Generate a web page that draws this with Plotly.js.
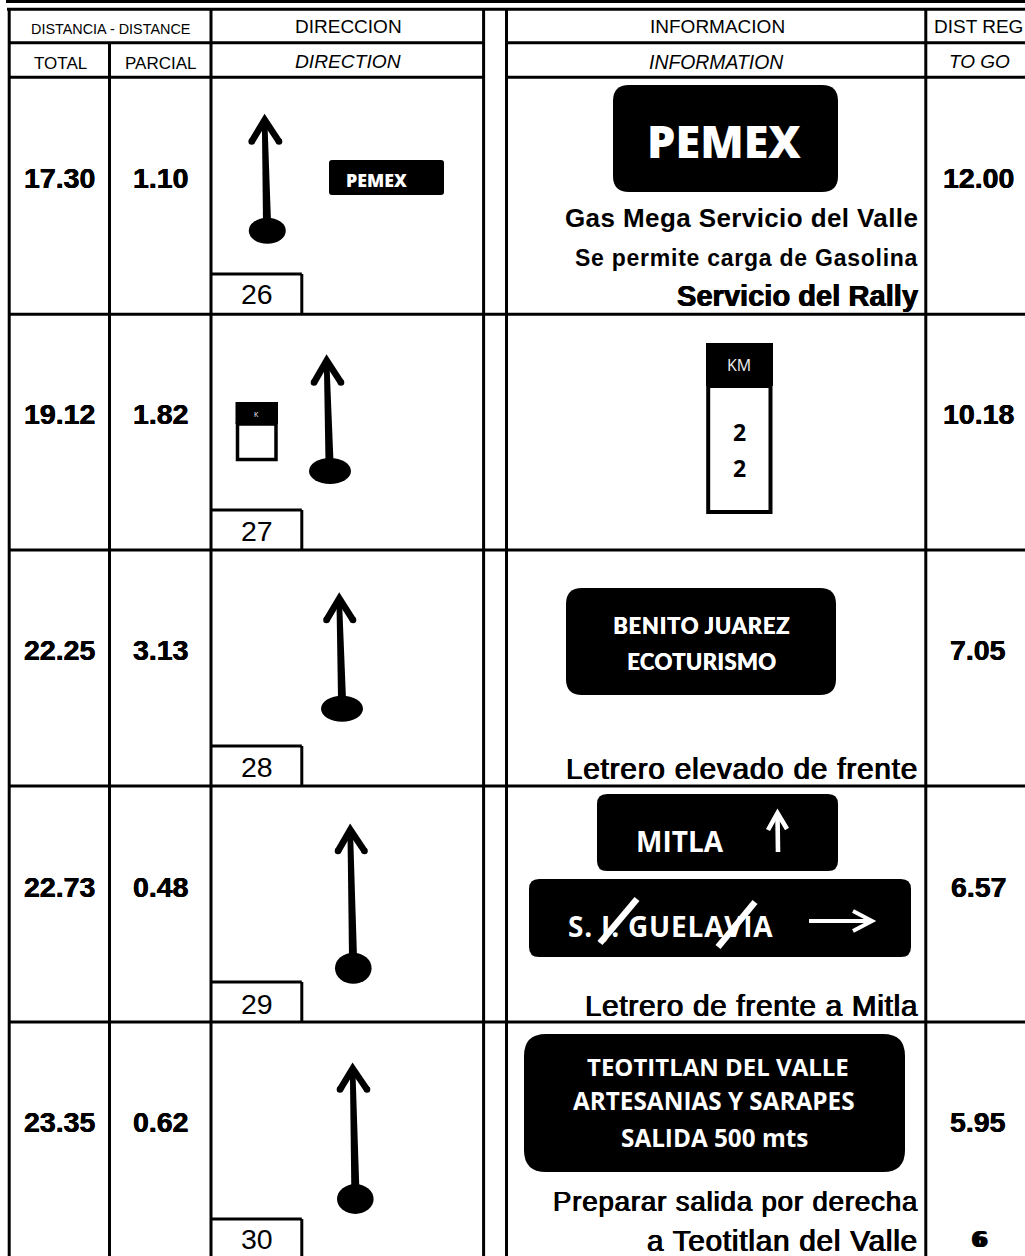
<!DOCTYPE html>
<html><head><meta charset="utf-8">
<script src="https://cdn.plot.ly/plotly-3.0.1.min.js"></script>
<style>html,body{margin:0;padding:0;background:#fff}</style></head>
<body><div id="chart" style="width:1025px;height:1256px"></div>
<script>
// ---- chart content ----
const totals   = ["17.30","19.12","22.25","22.73","23.35"];
const partials = ["1.10","1.82","3.13","0.48","0.62"];
const toGo     = ["12.00","10.18","7.05","6.57","5.95"];
const stepNumbers = ["26","27","28","29","30"];
const headerTop = ["DISTANCIA - DISTANCE","DIRECCION","INFORMACION","DIST REG"];
const headerSub = ["TOTAL","PARCIAL","DIRECTION","INFORMATION","TO GO"];
const captions = ["Gas Mega Servicio del Valle","Se permite carga de Gasolina","Servicio del Rally",
  "Letrero elevado de frente","Letrero de frente a Mitla","Preparar salida por derecha","a Teotitlan del Valle"];
const signTexts = ["PEMEX","KM","2","BENITO JUAREZ","ECOTURISMO","MITLA","S. J. GUELAVIA",
  "TEOTITLAN DEL VALLE","ARTESANIAS Y SARAPES","SALIDA 500 mts"];

// ---- layout helpers (page is mapped 1:1 on the axes) ----
const shapes=[], ann=[];
const LW=3, K='#000', W='#fff';
const ARIAL='"Liberation Sans", Arial, sans-serif', OPEN='"Open Sans", sans-serif', LATO='Lato, sans-serif';
function line(x0,y0,x1,y1,c=K,w=LW){shapes.push({type:'line',x0,y0,x1,y1,line:{color:c,width:w},layer:'above'});}
function poly(p,c=K,w=LW){shapes.push({type:'path',path:p,line:{color:c,width:w},fillcolor:'rgba(0,0,0,0)',layer:'above'});}
function fillp(p,c=K){shapes.push({type:'path',path:p,line:{width:0},fillcolor:c,layer:'above'});}
function ell(cx,cy,rx,ry,c=K){shapes.push({type:'circle',x0:cx-rx,x1:cx+rx,y0:cy-ry,y1:cy+ry,fillcolor:c,line:{width:0},layer:'above'});}
function rr(x0,y0,x1,y1,r,c=K){
  shapes.push({type:'path',layer:'below',fillcolor:c,line:{width:0},
   path:`M${x0+r},${y0} L${x1-r},${y0} Q${x1},${y0} ${x1},${y0+r} L${x1},${y1-r} Q${x1},${y1} ${x1-r},${y1} L${x0+r},${y1} Q${x0},${y1} ${x0},${y1-r} L${x0},${y0+r} Q${x0},${y0} ${x0+r},${y0} Z`});
}
function txt(t,x,y,size,o={}){
  const s=o.ls?`<span style="letter-spacing:${o.ls}px">${t}</span>`:t;
  ann.push({text:s,x,y,xref:'x',yref:'y',showarrow:false,xanchor:o.a||'center',yanchor:'middle',
    align:o.a||'center',borderpad:0,
    font:{family:o.f||ARIAL,size,color:o.c||K,weight:o.w||400,style:o.i?'italic':'normal',shadow:o.s||'none'}});
}
function arrow(tx,ty,bx,by,lx,rx,hy,ex,ey,erx,ery){
  const sy=ty+12;
  fillp(`M${tx-2.8},${sy} L${tx+2.8},${sy} L${bx+4},${by} L${bx-4},${by} Z`);
  poly(`M${lx},${hy} L${tx},${ty+7.5} L${rx},${hy}`,K,6.6);
  ell(lx,hy,3.3,3.3); ell(rx,hy,3.3,3.3);
  ell(ex,ey,erx,ery);
}

// frame
const yRows=[314.2,550,786,1022];
const colsX=[9.2,211,483.6,506.5,925.8];
shapes.push({type:'rect',x0:6,x1:1025,y0:0,y1:3,fillcolor:K,line:{width:0},layer:'above'});
line(7,9.3,1025,9.3);
colsX.forEach(x=>line(x,8,x,1256));
line(109.5,42.7,109.5,1256);
[42.7,77.3].forEach(y=>{line(9,y,483.6,y);line(506.5,y,1025,y);});
yRows.forEach(y=>line(9,y,1025,y));

// header text
txt(headerTop[0],110,29,14.4);
txt(headerTop[1],348,26.5,19);
txt(headerTop[2],717.5,26.5,19);
txt(headerTop[3],978,26.5,19);
txt(headerSub[0],60,63,17);
txt(headerSub[1],161,63,17);
txt(headerSub[2],348,61.5,19.2,{i:1});
txt(headerSub[3],716.5,61.5,19.4,{i:1});
txt(headerSub[4],979,61.5,19,{i:1});

// rows
const yMid=[178,414,650,887,1122], boxTop=[274,510,746,982,1219], boxY=[294,531,767,1004,1239];
const NUM='0.3px 0 0 #000,-0.3px 0 0 #000';
totals.forEach((t,i)=>{
  txt(t,59.5,yMid[i],28.5,{w:700,s:NUM});
  txt(partials[i],160.5,yMid[i],28.5,{w:700,s:NUM});
  txt(toGo[i],978,yMid[i],28.5,{w:700,s:NUM});
  line(211,boxTop[i],301.8,boxTop[i]);
  line(301.8,boxTop[i],301.8,i<4?yRows[i]:1256);
  txt(stepNumbers[i],257,boxY[i],28.5);
});

// direction arrows
arrow(264.7,112.5,267,222,251.7,279,141.5,267.3,230.7,18.5,13);
arrow(326.7,353,329.5,462,314,341,382.5,330,471,21,13);
arrow(339.3,591,342,699,326.5,353,620,342,708.7,21,13);
arrow(350.3,822.3,353,957,338,364.5,851,353.3,968.3,18.3,15.5);
arrow(352.7,1061,355.3,1188,340,367,1089.5,355.3,1199,18.3,15);

// small PEMEX + K signs
rr(329,160,444,195,3);
txt(signTexts[0],376,179.5,17.8,{f:OPEN,w:800,c:W});
shapes.push({type:'rect',x0:235.5,x1:278,y0:402,y1:424,fillcolor:K,line:{width:0},layer:'above'});
shapes.push({type:'rect',x0:237.5,x1:276,y0:424,y1:459.5,fillcolor:'rgba(0,0,0,0)',line:{color:K,width:3.5},layer:'above'});
txt(signTexts[1][0],256.5,414,7,{f:OPEN,c:W});

// big PEMEX
rr(613,85,838,192,16);
txt(signTexts[0],724,140,45,{f:OPEN,w:800,c:W});

// captions
const RX=919, TH='0.6px 0 0 #000,-0.6px 0 0 #000';
txt(captions[0],RX,218,26,{a:'right',w:700,ls:0.4});
txt(captions[1],RX,258,23,{a:'right',w:700,ls:0.75});
txt(captions[2],RX,296,29,{a:'right',w:700,ls:0.05,s:'0.5px 0 0 #000,-0.5px 0 0 #000'});
txt(captions[3],RX,768,29.5,{a:'right',ls:0.9,s:TH});
txt(captions[4],RX,1005,29.5,{a:'right',ls:0.8,s:TH});
txt(captions[5],RX,1201,27.5,{a:'right',ls:0.9,s:TH});
txt(captions[6],RX,1240,29.5,{a:'right',ls:0.85,s:TH});
txt("6",979,1239,22,{f:'"DejaVu Sans", sans-serif',w:700,s:'1.6px 0 0 #000,-1.6px 0 0 #000'});

// KM sign
shapes.push({type:'rect',x0:706,x1:773,y0:343,y1:386,fillcolor:K,line:{width:0},layer:'above'});
shapes.push({type:'rect',x0:708.2,x1:770.5,y0:386,y1:512,fillcolor:'rgba(0,0,0,0)',line:{color:K,width:4},layer:'above'});
txt(signTexts[1],739,365,16,{f:OPEN,c:'#eee'});
txt(signTexts[2],739,432,23,{f:OPEN,w:700});
txt(signTexts[2],739,468,23,{f:OPEN,w:700});

// Benito Juarez
rr(566,588,836,695,16);
txt(signTexts[3],701,625,22,{f:LATO,w:900,c:W,ls:0.75,s:'0.4px 0 0 #fff'});
txt(signTexts[4],701,661,22,{f:LATO,w:900,c:W,ls:0.4,s:'0.4px 0 0 #fff'});

// Mitla
rr(597,794,838,871,10);
txt(signTexts[5],680,840.5,28,{f:OPEN,w:700,c:W});
line(778,852,777.5,815,W,4.6);
poly('M768,830 L777.5,813 L787,829',W,4.6);

// S.J. Guelavia
rr(529,879,911,957,10);
txt(signTexts[6],670,926,28,{f:OPEN,w:700,c:W,ls:0.8});
line(600,943,637,899,W,6.5);
line(718,947,755,902,W,6.5);
line(809,921,870,921,W,4);
poly('M853,911 L872,921 L853,931',W,4);

// Teotitlan
rr(524,1034,905,1172,22);
txt(signTexts[7],717.5,1066,24,{f:OPEN,w:700,c:W});
txt(signTexts[8],714,1100,24.3,{f:OPEN,w:700,c:W});
txt(signTexts[9],714.5,1137,24.3,{f:OPEN,w:700,c:W});

const ax={visible:false,fixedrange:true,showgrid:false,zeroline:false};
Plotly.newPlot('chart',[{x:[0],y:[0],mode:'markers',marker:{opacity:0},hoverinfo:'skip',showlegend:false}],{
  width:1025,height:1256,margin:{l:0,r:0,t:0,b:0},paper_bgcolor:W,plot_bgcolor:W,showlegend:false,
  xaxis:Object.assign({range:[0,1025]},ax),yaxis:Object.assign({range:[1256,0]},ax),
  shapes,annotations:ann
},{staticPlot:true,displayModeBar:false});
</script></body></html>
